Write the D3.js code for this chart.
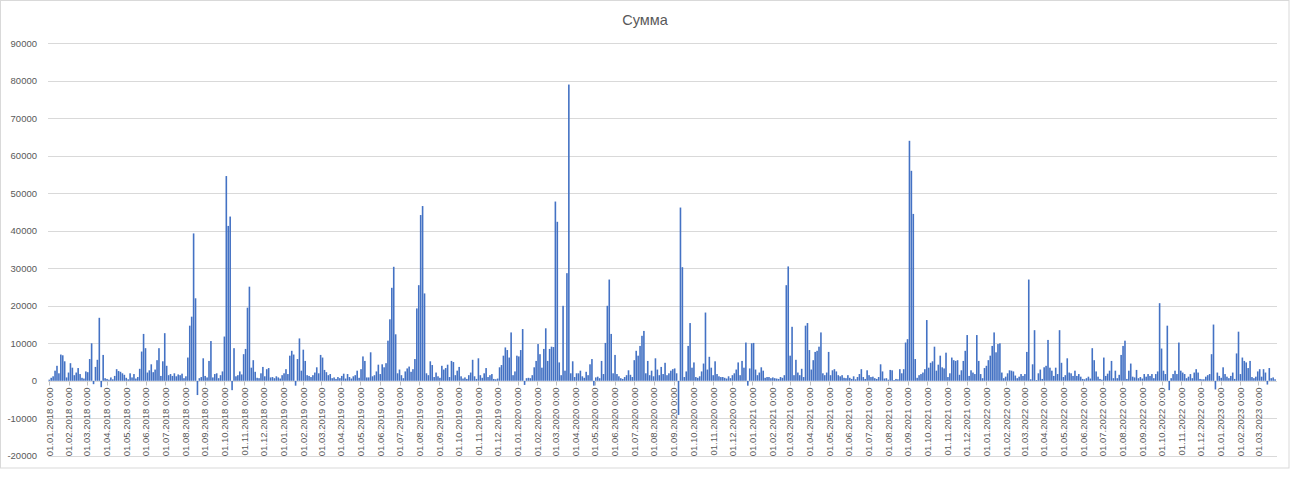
<!DOCTYPE html>
<html>
<head>
<meta charset="utf-8">
<script src="https://cdn.jsdelivr.net/npm/d3@7/dist/d3.min.js"></script>
<style>
  html, body { margin: 0; padding: 0; background: #fff; }
  text { font-family: "Liberation Sans", Arial, sans-serif; fill: #595959; }
</style>
</head>
<body>
<div id="chart"></div>
<script>
// values every 3 days starting 01.01.2018
var startDate = "2018-01-01";
var stepDays = 3;

var s2018 = [
  300, 800, 1200, 2700, 4000, 2000, 7000, 6800, 5200, 900,
  2200, 4700, 3500, 1500, 2200, 3400, 1800, 800, 600, 2500,
  2300, 5800, 10000, -900, 3700, 5600, 16800, -1700, 6900, 700,
  500, 300, 900, 400, 1300, 3100, 2600, 2400, 2000, 1600,
  800, 400, 2000, 900, 1800, 600, 1000, 3200, 7800, 12500,
  8700, 2200, 2800, 4400, 2300, 3000, 5500, 8700, 1300, 5200,
  12700, 4000, 1500, 1800, 1300, 2000, 1200, 1700, 1500, 1900,
  700, 1200, 6200, 14700, 17100, 39300, 22000, -3800, 700, 1000,
  6000, 1300, 900, 5300, 10600, 900, 1800, 2000, 700, 1500,
  2500, 11800, 54600, 41300, 43800, -2500, 8700, 1200, 1500, 2500,
  1700, 7100, 8500, 19500, 25100, 3500, 5500, 2400, 800, 700,
  2000, 3700, 1200, 3100, 3400, 900, 1000, 700, 1200, 900,
  600, 1500
];
var s2019 = [
  2000, 3100, 1800, 6700, 8000, 7000, -1300, 5800,
  11300, 2700, 8300, 5300, 1500, 1300, 1000, 1500, 2200, 3600,
  2000, 6900, 6200, 2900, 2300, 1500, 1800, 700, 900, 500,
  1000, 700, 1300, 1900, 600, 1800, 1000, 600, 1200, 1500,
  2700, 800, 3100, 6500, 5300, 900, 900, 7600, 1200, 1500,
  2500, 4300, 1800, 4400, 3600, 4700, 10700, 16400, 24800, 30400,
  12400, 2000, 3000, 1500, 700, 2500, 3300, 3800, 2400, 3100,
  5800, 19300, 25500, 44200, 46600, 23300, 2000, 1500, 5200, 4200,
  1000, 2200, 1200, 800, 4000, 3000, 3400, 4300, 1000, 5300,
  5000, 1500, 2700, 3700, 1200, 600, 900, 500, 1500, 2200,
  5600, 1200, 500, 6000, 1500, 800, 2000, 3400, 1000, 1500,
  1800, 500, 400, 600, 3600, 4200, 6700, 8900, 8200, 6200,
  12900, 1500, 2500, 6700
];
var s2020 = [
  6500, 8200, 13800, -1100, 700, 800,
  700, 1500, 3600, 5300, 9800, 7100, 3500, 8500, 14000, 5300,
  8500, 9100, 9000, 47800, 42400, 4900, 1500, 20000, 2700, 28700,
  79000, 2000, 5200, 1000, 2000, 2000, 2700, 1200, 800, 2400,
  1500, 4400, 5800, -1300, 900, 1100, 700, 5300, 1800, 10100,
  20000, 27000, 12500, 2000, 6900, 1800, 1200, 700, 500, 1000,
  1500, 2800, 1600, 1000, 5500, 8000, 6700, 9300, 12000, 13300,
  2000, 5300, 1500, 2700, 1200, 6000, 3000, 1500, 3700, 1800,
  4800, 1500, 2000, 2700, 3100, 3300, 2000, -9100, 46200, 30300,
  1000, 2500, 9300, 15400, 3500, 4900, 1000, 800, 1200, 2500,
  4600, 18200, 3000, 6400, 3500, 1500, 5200, 1800, 1200, 1000,
  1000, 800, 600, 1200, 700, 1500, 2000, 3000, 4900, 1500,
  5300, 3500, 10200, -1300, 3300, 10000
];
var s2021 = [
  10100, 3000, 1500, 2200,
  3600, 2700, 800, 1000, 1000, 700, 900, 700, 600, 500,
  1000, 800, 1500, 25500, 30500, 6700, 14400, 1500, 5600, 2200,
  1500, 3200, 1000, 14700, 15400, 8200, 3000, 5500, 7700, 8000,
  9100, 12900, 2000, 1500, 2200, 7700, 1500, 2800, 3100, 2500,
  1500, 1200, 1500, 800, 700, 1500, 800, 500, 1200, 400,
  1000, 1800, 3100, 1000, 500, 2800, 1500, 1000, 1100, 700,
  500, 1000, 4400, 2500, 600, 700, 300, 2900, 2800, 200,
  500, 400, 3100, 2000, 3100, 10200, 11100, 64000, 56000, 44500,
  5800, 800, 1500, 1800, 2200, 3100, 16200, 3500, 4800, 5200,
  9100, 2700, 4300, 6700, 3600, 3300, 7500, 1000, 2000, 6200,
  5500, 5300, 5500, 1600, 2800, 5300, 8000, 12200, 1300, 2800,
  2200, 1800, 12200, 5300, 1800, 700, 3400
];
var s2022 = [
  4000, 5500, 6700,
  9300, 12900, 7600, 9800, 10000, 2200, 700, 1100, 2000, 2800,
  2700, 2500, 1400, 700, 1100, 1800, 1300, 1800, 7700, 27000,
  400, 4400, 13500, 200, 2000, 3000, 500, 3600, 4000, 10900,
  3500, 2700, 1300, 3500, 1800, 13500, 4800, 1000, 1500, 6000,
  2200, 2000, 1300, 2700, 1300, 1800, 1100, 500, 400, 700,
  1100, 600, 8700, 5500, 2500, 1100, 500, 300, 6200, 1300,
  1900, 2700, 5300, 700, 2700, 700, 1600, 6900, 9300, 10700,
  500, 2700, 4600, 1100, 900, 2900, 700, 1000, 600, 1800,
  1100, 1800, 1300, 1800, 700, 1800, 2500, 20700, 8600, 2700,
  1800, 14700, -2500, 700, 1800, 2700, 1800, 10200, 2700, 2200,
  1800, 700, 1100, 1800, 700, 2200, 3100, 2200, 500, 400,
  400, 1100, 1500, 1800, 7100, 15000, -2300, 2200, 1300
];
var s2023 = [
  800,
  3600, 1800, 1100, 700, 1300, 2200, 500, 7300, 13100, 1800,
  6200, 5300, 4900, 3400, 5300, 1000, 700, 1100, 2500, 3100,
  1100, 3100, 2200, -1000, 3400, 700, 900, 400
];

var yTicks = [-20000, -10000, 0, 10000, 20000, 30000, 40000, 50000, 60000, 70000, 80000, 90000];
var title = "Сумма";

var width = 1290, height = 490;
var plot = { left: 48, right: 1277, top: 43.3, bottom: 455.8 };

var parse = d3.timeParse("%Y-%m-%d");
var start = parse(startDate);
var values = [].concat(s2018, s2019, s2020, s2021, s2022, s2023);
var data = values.map(function (v, i) {
    return { date: d3.timeDay.offset(start, i * stepDays), value: v };
});

var x = d3.scaleTime()
    .domain([d3.timeDay.offset(start, -2), parse("2023-03-30")])
    .range([plot.left, plot.right]);
var y = d3.scaleLinear()
    .domain([-20000, 90000])
    .range([plot.bottom, plot.top]);

var svg = d3.select("#chart").append("svg")
    .attr("width", width)
    .attr("height", height);

// chart border
svg.append("rect")
    .attr("x", 0.5).attr("y", 0.5)
    .attr("width", 1288.5).attr("height", 467.5)
    .attr("fill", "#fff")
    .attr("stroke", "#d9d9d9");

// title
svg.append("text")
    .attr("x", 645)
    .attr("y", 25)
    .attr("text-anchor", "middle")
    .style("font-size", "14.5px")
    .text(title);

// gridlines + y labels
var grid = svg.append("g");
grid.selectAll("line").data(yTicks).enter()
    .append("line")
    .attr("x1", plot.left).attr("x2", plot.right)
    .attr("y1", function (d) { return Math.round(y(d)) + 0.5; })
    .attr("y2", function (d) { return Math.round(y(d)) + 0.5; })
    .attr("stroke", "#d9d9d9");
grid.selectAll("text").data(yTicks).enter()
    .append("text")
    .attr("x", 37)
    .attr("y", function (d) { return y(d); })
    .attr("dy", "0.35em")
    .attr("text-anchor", "end")
    .style("font-size", "9.5px")
    .text(function (d) { return d; });

// bars
var bw = 1.6;
svg.append("g").selectAll("rect").data(data).enter()
    .append("rect")
    .attr("x", function (d) { return x(d.date) - bw / 2; })
    .attr("y", function (d) { return y(Math.max(0, d.value)); })
    .attr("width", bw)
    .attr("height", function (d) { return Math.abs(y(d.value) - y(0)); })
    .attr("fill", "#4472C4");

// month ticks and labels
var months = d3.timeMonth.range(parse("2018-01-01"), parse("2023-03-02"));
var fmt = d3.timeFormat("%d.%m.%Y %-H:%M");
var y0 = Math.round(y(0)) + 0.5;
var xa = svg.append("g");
xa.selectAll("line").data(months).enter()
    .append("line")
    .attr("x1", function (d) { return Math.round(x(d)) + 0.5; })
    .attr("x2", function (d) { return Math.round(x(d)) + 0.5; })
    .attr("y1", y0).attr("y2", y0 + 4)
    .attr("stroke", "#bfbfbf");
xa.selectAll("text").data(months).enter()
    .append("text")
    .attr("transform", function (d) { return "translate(" + x(d) + "," + (y0 + 6) + ") rotate(-90)"; })
    .attr("dy", "0.35em")
    .attr("text-anchor", "end")
    .style("font-size", "9.5px")
    .text(function (d) { return fmt(d); });
</script>
</body>
</html>
